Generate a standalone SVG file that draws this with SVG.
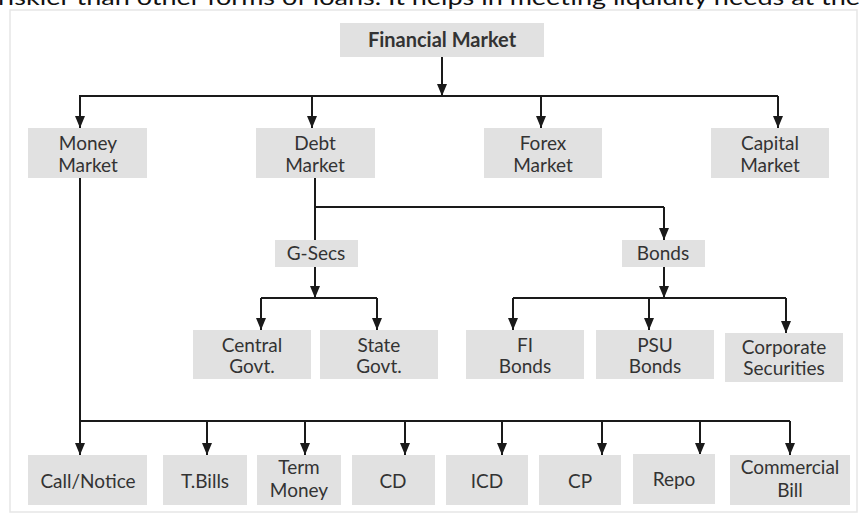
<svg xmlns="http://www.w3.org/2000/svg" width="859" height="515" viewBox="0 0 859 515">
<defs>
<marker id="ah" markerUnits="userSpaceOnUse" markerWidth="10" markerHeight="12" viewBox="0 0 10 12" refX="5" refY="12" orient="0">
<path d="M0,0 L10,0 L5,12 z" fill="#1a1a1a"/>
</marker>
</defs>
<style>
.box{fill:#e1e1e1;}
.t{font-family:Lato,"Liberation Sans",sans-serif;font-size:19px;fill:#333;text-anchor:middle;}
.b{font-weight:bold;font-size:20px;}
.c{fill:none;stroke:#1a1a1a;stroke-width:2;}
.a{fill:none;stroke:#1a1a1a;stroke-width:2;marker-end:url(#ah);}
</style>
<rect x="0" y="0" width="859" height="515" fill="#fff"/>
<text x="-2" y="5" font-family="Lato,'Liberation Sans',sans-serif" font-size="21" fill="#111" textLength="862" lengthAdjust="spacingAndGlyphs">riskier than other forms of loans. It helps in meeting liquidity needs at the</text>
<rect x="10" y="10" width="847" height="502" fill="none" stroke="#e6e6e6" stroke-width="1.5"/>

<g id="connectors">
<path class="a" d="M442,57 V96"/>
<path class="c" d="M79,96 H778"/>
<path class="a" d="M80,96 V128"/>
<path class="a" d="M312,96 V128"/>
<path class="a" d="M541,96 V128"/>
<path class="a" d="M778,96 V128"/>
<path class="c" d="M315,178 V240"/>
<path class="c" d="M315,207 H664"/>
<path class="a" d="M664,207 V240"/>
<path class="a" d="M315,267 V298"/>
<path class="c" d="M261,298 H377"/>
<path class="a" d="M261,298 V330"/>
<path class="a" d="M377,298 V330"/>
<path class="a" d="M664,267 V298"/>
<path class="c" d="M513,298 H786"/>
<path class="a" d="M513,298 V330"/>
<path class="a" d="M649,298 V330"/>
<path class="a" d="M786,298 V333"/>
<path class="c" d="M80,178 V421 H790"/>
<path class="a" d="M80,421 V455"/>
<path class="a" d="M207,421 V455"/>
<path class="a" d="M305,421 V455"/>
<path class="a" d="M405,421 V455"/>
<path class="a" d="M502,421 V455"/>
<path class="a" d="M602,421 V455"/>
<path class="a" d="M700,421 V455"/>
<path class="a" d="M790,421 V455"/>
</g>

<g id="financial-market"><rect class="box" x="340" y="23" width="204" height="34"/><text class="t b" x="442" y="47">Financial Market</text></g>

<g id="money-market"><rect class="box" x="28" y="128" width="119" height="50"/><text class="t" x="88" y="150">Money</text><text class="t" x="88" y="172">Market</text></g>
<g id="debt-market"><rect class="box" x="256" y="128" width="119" height="50"/><text class="t" x="315" y="150">Debt</text><text class="t" x="315" y="172">Market</text></g>
<g id="forex-market"><rect class="box" x="484" y="128" width="118" height="50"/><text class="t" x="543" y="150">Forex</text><text class="t" x="543" y="172">Market</text></g>
<g id="capital-market"><rect class="box" x="711" y="128" width="118" height="50"/><text class="t" x="770" y="150">Capital</text><text class="t" x="770" y="172">Market</text></g>

<g id="g-secs"><rect class="box" x="275" y="240" width="83" height="27"/><text class="t" x="316" y="260">G-Secs</text></g>
<g id="bonds"><rect class="box" x="622" y="240" width="83" height="27"/><text class="t" x="663" y="260">Bonds</text></g>

<g id="central-govt"><rect class="box" x="193" y="330" width="118" height="49"/><text class="t" x="252" y="352">Central</text><text class="t" x="252" y="373">Govt.</text></g>
<g id="state-govt"><rect class="box" x="320" y="330" width="118" height="49"/><text class="t" x="379" y="352">State</text><text class="t" x="379" y="373">Govt.</text></g>
<g id="fi-bonds"><rect class="box" x="466" y="330" width="118" height="49"/><text class="t" x="525" y="352">FI</text><text class="t" x="525" y="373">Bonds</text></g>
<g id="psu-bonds"><rect class="box" x="596" y="330" width="118" height="49"/><text class="t" x="655" y="352">PSU</text><text class="t" x="655" y="373">Bonds</text></g>
<g id="corporate-securities"><rect class="box" x="725" y="333" width="118" height="49"/><text class="t" x="784" y="354">Corporate</text><text class="t" x="784" y="375">Securities</text></g>

<g id="call-notice"><rect class="box" x="28" y="455" width="119" height="50"/><text class="t" x="88" y="488">Call/Notice</text></g>
<g id="t-bills"><rect class="box" x="163" y="455" width="84" height="50"/><text class="t" x="205" y="488">T.Bills</text></g>
<g id="term-money"><rect class="box" x="257" y="455" width="84" height="50"/><text class="t" x="299" y="474">Term</text><text class="t" x="299" y="497">Money</text></g>
<g id="cd"><rect class="box" x="352" y="455" width="83" height="50"/><text class="t" x="393" y="488">CD</text></g>
<g id="icd"><rect class="box" x="446" y="455" width="82" height="50"/><text class="t" x="487" y="488">ICD</text></g>
<g id="cp"><rect class="box" x="539" y="455" width="82" height="50"/><text class="t" x="580" y="488">CP</text></g>
<g id="repo"><rect class="box" x="633" y="454" width="82" height="50"/><text class="t" x="674" y="486">Repo</text></g>
<g id="commercial-bill"><rect class="box" x="730" y="455" width="120" height="50"/><text class="t" x="790" y="474">Commercial</text><text class="t" x="790" y="497">Bill</text></g>
</svg>
